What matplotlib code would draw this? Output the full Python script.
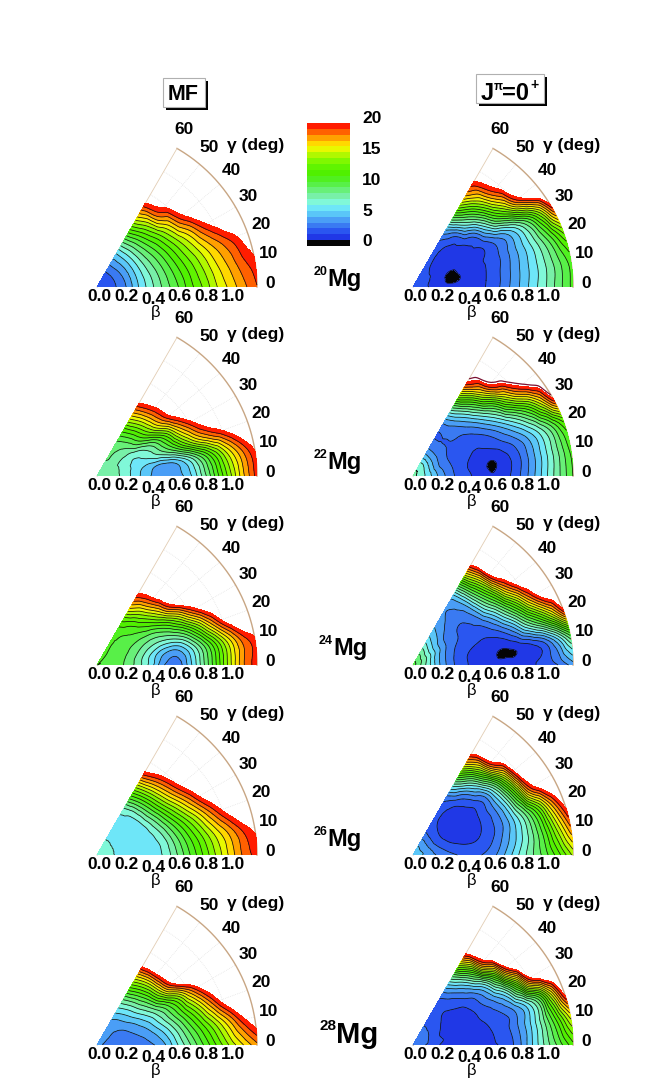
import numpy as np
import matplotlib
matplotlib.use('Agg')
import matplotlib.pyplot as plt
import matplotlib.tri as mtri
from matplotlib.colors import ListedColormap
from matplotlib.patches import Rectangle

plt.rcParams['font.family'] = ['Liberation Sans', 'DejaVu Sans']

# ---------------- data ----------------
BETA = [0.1, 0.2, 0.3, 0.4, 0.5, 0.6, 0.7, 0.8, 0.9, 1.0, 1.1, 1.2]
GAMMA = [0, 10, 20, 30, 40, 50, 60]          # rows of each table
BETA_TICKS = [0.0, 0.2, 0.4, 0.6, 0.8, 1.0]
GAMMA_TICKS = [0, 10, 20, 30, 40, 50, 60]
CBAR_TICKS = [0, 5, 10, 15, 20]
E_LEVELS = [-5.0, 0.95, 1.90, 2.86, 3.81, 4.76, 5.71, 6.67, 7.62, 8.57, 9.52,
            10.48, 11.43, 12.38, 13.33, 14.29, 15.24, 16.19, 17.14, 18.10, 19.05, 20.0]
BAND_COLORS = ['#050505', '#2038e6', '#2a56f0', '#3a7af2', '#4a9ef6', '#5ac6f8',
               '#6ee6f8', '#80f8d8', '#78f0a8', '#68f078', '#58f048', '#50f020',
               '#50f000', '#60f400', '#80f800', '#b0f800', '#e8f800', '#ffd800',
               '#ffa000', '#ff6000', '#ff1c00']
NUCLEI = ['20', '22', '24', '26', '28']
COLUMN_TITLES = ['MF', 'J=0']

# energies (MeV): E0 at beta=0, then rows gamma=0..60, columns beta=0.1..1.2
MG20_MF_E0 = 2.0
MG20_MF = [
    [2.5, 3.5, 5.5, 7.2, 8.8, 10.3, 12.0, 13.5, 15.2, 16.5, 17.8, 19.0],
    [2.5, 3.6, 5.6, 7.4, 9.1, 10.8, 12.5, 14.2, 15.9, 17.3, 18.7, 19.8],
    [2.5, 3.7, 5.7, 7.7, 9.5, 11.4, 13.3, 15.1, 16.9, 18.4, 19.8, 21.5],
    [2.5, 3.8, 5.8, 8.0, 10.0, 12.1, 14.3, 16.5, 19.0, 21.0, 23.0, 25.0],
    [2.5, 3.9, 5.9, 8.3, 10.7, 13.1, 15.8, 19.0, 21.5, 24.0, 26.0, 28.0],
    [2.5, 4.0, 6.0, 8.6, 11.5, 14.5, 18.3, 20.5, 23.0, 25.5, 28.0, 30.0],
    [2.5, 4.0, 6.0, 9.0, 12.5, 16.0, 19.2, 22.0, 25.0, 27.5, 30.0, 32.0]]
MG20_J0_E0 = 2.5
MG20_J0 = [
    [2.0, 1.6, 1.4, 1.5, 1.7, 2.3, 3.5, 4.8, 6.2, 7.6, 9.2, 10.8],
    [2.0, 1.3, 0.7, 1.2, 1.6, 2.2, 3.3, 4.6, 6.0, 7.5, 9.2, 11.0],
    [2.1, 1.4, 0.8, 1.3, 1.7, 2.1, 3.0, 4.4, 6.0, 8.0, 10.5, 13.5],
    [2.2, 1.6, 1.3, 1.5, 1.7, 2.0, 3.3, 4.8, 7.0, 10.0, 14.0, 19.3],
    [2.2, 1.7, 1.5, 1.6, 2.0, 3.2, 6.5, 10.5, 14.0, 18.5, 22.0, 25.0],
    [2.3, 1.9, 1.7, 1.9, 3.0, 6.5, 10.0, 14.0, 18.0, 21.0, 24.0, 27.0],
    [2.4, 2.2, 2.3, 2.8, 5.0, 9.5, 14.0, 17.5, 19.7, 22.0, 24.5, 27.0]]
MG22_MF_E0 = 8.5
MG22_MF = [
    [8.2, 7.3, 6.0, 4.8, 4.0, 4.3, 5.5, 8.0, 11.0, 14.0, 17.0, 19.5],
    [8.2, 7.3, 6.2, 5.2, 4.6, 5.0, 6.8, 9.5, 12.5, 15.5, 18.0, 20.2],
    [8.2, 7.4, 6.5, 6.8, 8.0, 10.0, 13.0, 16.0, 18.2, 20.0, 22.0, 24.0],
    [8.3, 7.5, 7.0, 7.8, 9.5, 12.5, 16.5, 19.5, 22.0, 24.0, 26.0, 28.0],
    [8.4, 8.0, 8.3, 10.3, 13.0, 16.5, 19.8, 22.5, 25.0, 27.0, 29.0, 31.0],
    [8.5, 8.4, 9.0, 11.2, 14.3, 17.8, 20.8, 23.5, 26.0, 28.0, 30.0, 32.0],
    [8.5, 8.8, 9.5, 12.0, 15.5, 19.0, 22.0, 25.0, 27.0, 29.0, 31.0, 33.0]]
MG22_J0_E0 = 8.0
MG22_J0 = [
    [6.5, 4.5, 3.0, 2.2, 1.5, 1.0, 1.6, 2.8, 4.5, 6.5, 8.5, 10.5],
    [6.5, 4.3, 2.9, 2.0, 1.4, 0.88, 1.5, 2.6, 4.3, 6.3, 8.5, 10.8],
    [6.5, 4.0, 2.8, 2.2, 1.8, 1.9, 2.5, 3.5, 5.0, 7.0, 9.5, 12.5],
    [6.6, 4.1, 2.8, 2.3, 2.2, 2.7, 4.0, 6.0, 8.5, 11.5, 15.5, 20.5],
    [6.8, 4.3, 3.0, 2.8, 3.0, 4.3, 6.8, 10.0, 14.5, 18.5, 21.5, 24.0],
    [7.0, 4.4, 3.0, 3.0, 4.0, 6.5, 10.5, 15.5, 20.2, 22.5, 25.0, 27.0],
    [7.0, 4.5, 3.0, 3.0, 5.0, 9.0, 14.5, 19.5, 22.0, 24.0, 26.0, 28.0]]
MG24_MF_E0 = 10.5
MG24_MF = [
    [10.2, 9.5, 8.2, 6.3, 3.9, 3.2, 5.4, 8.4, 11.6, 15.0, 18.0, 19.6],
    [10.2, 9.6, 8.4, 6.7, 5.0, 4.5, 6.2, 9.0, 12.2, 15.5, 18.3, 19.9],
    [10.3, 9.8, 9.0, 8.0, 7.5, 8.0, 9.8, 13.0, 16.8, 20.3, 23.0, 25.0],
    [10.4, 10.0, 9.6, 9.4, 9.8, 11.5, 14.5, 18.3, 21.5, 24.0, 26.5, 29.0],
    [10.4, 10.2, 10.2, 10.8, 12.5, 15.5, 19.7, 23.0, 25.5, 28.0, 30.0, 32.0],
    [10.5, 10.4, 10.6, 11.8, 14.5, 18.0, 21.5, 24.0, 26.5, 29.0, 31.0, 33.0],
    [10.5, 10.6, 11.0, 13.0, 16.5, 19.5, 22.0, 24.5, 27.0, 29.0, 31.0, 33.0]]
MG24_J0_E0 = 10.0
MG24_J0 = [
    [7.5, 4.8, 3.0, 2.0, 1.5, 1.25, 1.2, 1.4, 1.8, 2.3, 3.0, 4.2],
    [7.6, 4.8, 3.0, 2.0, 1.5, 1.15, 0.93, 1.3, 1.9, 3.0, 5.5, 9.0],
    [7.8, 5.0, 3.2, 2.4, 2.0, 1.9, 2.6, 4.5, 7.8, 11.0, 14.8, 19.5],
    [8.0, 5.5, 3.6, 2.8, 2.5, 3.0, 5.0, 8.5, 12.7, 17.5, 21.5, 24.0],
    [8.0, 5.6, 3.8, 3.0, 2.9, 4.2, 7.8, 12.0, 17.5, 21.5, 24.0, 26.0],
    [8.3, 6.0, 4.5, 3.6, 3.5, 5.0, 9.5, 14.5, 20.8, 23.5, 26.0, 28.0],
    [8.5, 6.5, 5.0, 4.3, 4.0, 5.5, 10.5, 16.5, 21.5, 24.0, 26.0, 28.0]]
MG26_MF_E0 = 7.0
MG26_MF = [
    [6.8, 6.3, 6.1, 6.1, 6.8, 8.5, 10.5, 12.5, 14.5, 16.5, 18.3, 19.5],
    [6.8, 6.3, 6.1, 6.1, 7.0, 9.0, 11.2, 13.3, 15.4, 17.3, 19.1, 20.5],
    [6.8, 6.3, 6.1, 6.2, 7.6, 10.0, 12.5, 15.0, 17.7, 20.2, 22.5, 25.0],
    [6.8, 6.3, 6.2, 6.4, 8.5, 11.5, 14.5, 17.5, 20.5, 23.0, 25.5, 28.0],
    [6.8, 6.3, 6.2, 6.7, 9.5, 13.0, 16.5, 19.7, 22.5, 25.0, 27.5, 30.0],
    [6.8, 6.4, 6.2, 7.0, 10.2, 14.0, 17.8, 21.0, 24.0, 26.5, 29.0, 31.0],
    [6.8, 6.4, 6.3, 7.5, 11.0, 15.0, 19.3, 22.5, 25.0, 27.5, 30.0, 32.0]]
MG26_J0_E0 = 5.5
MG26_J0 = [
    [4.5, 3.6, 3.0, 2.7, 2.8, 3.5, 5.0, 6.8, 8.5, 10.2, 12.2, 14.5],
    [4.5, 3.2, 2.4, 2.0, 2.1, 2.8, 4.2, 6.0, 8.2, 11.0, 14.5, 18.0],
    [4.4, 2.8, 1.8, 1.4, 1.6, 2.4, 3.6, 5.8, 8.8, 12.5, 17.0, 21.0],
    [4.3, 2.5, 1.5, 1.1, 1.3, 2.3, 3.8, 6.8, 12.0, 18.5, 22.0, 25.0],
    [4.3, 2.5, 1.5, 1.2, 1.5, 2.4, 4.2, 8.5, 14.5, 21.0, 24.0, 27.0],
    [4.4, 2.6, 1.8, 1.6, 2.2, 4.0, 7.5, 13.0, 19.5, 23.0, 25.5, 28.0],
    [4.5, 2.8, 2.2, 2.4, 3.5, 7.0, 12.0, 17.0, 21.0, 24.0, 26.5, 29.0]]
MG28_MF_E0 = 4.0
MG28_MF = [
    [3.6, 3.4, 3.4, 3.6, 4.5, 6.5, 8.5, 10.5, 12.5, 14.5, 16.2, 17.8],
    [3.6, 3.4, 3.6, 4.2, 5.5, 7.5, 9.8, 12.0, 14.3, 16.8, 19.4, 21.5],
    [3.7, 3.5, 4.0, 5.0, 6.8, 9.0, 11.5, 14.2, 17.5, 20.8, 23.5, 26.0],
    [3.8, 3.7, 4.5, 6.0, 8.0, 10.5, 13.5, 17.5, 21.0, 24.0, 26.5, 29.0],
    [3.9, 4.0, 5.2, 7.2, 9.8, 14.0, 19.0, 23.0, 25.5, 28.0, 30.0, 32.0],
    [4.0, 4.2, 5.7, 8.0, 11.2, 15.2, 20.3, 23.5, 26.5, 28.5, 30.5, 32.5],
    [4.0, 4.5, 6.2, 8.8, 12.5, 16.5, 21.0, 24.0, 27.0, 29.0, 31.0, 33.0]]
MG28_J0_E0 = 3.8
MG28_J0 = [
    [2.8, 1.9, 1.6, 1.5, 1.6, 1.8, 2.2, 3.6, 5.8, 8.0, 10.0, 12.0],
    [3.0, 2.1, 1.6, 1.5, 1.6, 1.9, 2.5, 3.8, 5.8, 8.5, 11.8, 15.5],
    [3.1, 2.0, 1.4, 1.3, 1.7, 2.2, 2.8, 4.0, 6.2, 9.5, 15.0, 21.0],
    [3.2, 2.2, 1.5, 1.3, 1.8, 2.8, 4.3, 7.0, 12.5, 19.5, 23.0, 26.0],
    [3.3, 2.4, 1.8, 1.8, 2.4, 3.7, 6.5, 12.0, 19.5, 24.0, 26.5, 29.0],
    [3.4, 2.5, 2.0, 2.3, 3.6, 6.2, 11.0, 18.5, 23.0, 25.5, 27.5, 29.5],
    [3.5, 2.6, 2.3, 2.8, 5.0, 9.0, 15.0, 20.5, 23.5, 26.0, 28.0, 30.0]]

PANELS_MF = [(MG20_MF_E0, MG20_MF), (MG22_MF_E0, MG22_MF), (MG24_MF_E0, MG24_MF),
             (MG26_MF_E0, MG26_MF), (MG28_MF_E0, MG28_MF)]
PANELS_J0 = [(MG20_J0_E0, MG20_J0), (MG22_J0_E0, MG22_J0), (MG24_J0_E0, MG24_J0),
             (MG26_J0_E0, MG26_J0), (MG28_J0_E0, MG28_J0)]

# ---------------- layout ----------------
W, H = 654, 1085
S = 160 / 1.2                      # pixels per beta unit
ROW_Y = [287, 476, 665, 855, 1045]
COL_X = [97, 413]
GSCALE = 100.0                     # degrees per parameter unit

fig = plt.figure(figsize=(W / 100, H / 100), dpi=100)
fig.patch.set_facecolor('white')


def fx(p):
    return p / W


def fy(p):
    return 1 - p / H


def make_tri(e0, table):
    # triangulate on the (beta, gamma) parameter grid, smooth there, then map to the plane
    betas = [0.0] + BETA
    ng = len(GAMMA)
    us, vs, zs = [], [], []
    for i, b in enumerate(betas):
        for j, g in enumerate(GAMMA):
            us.append(b)
            vs.append(g / GSCALE)
            zs.append(e0 if i == 0 else table[j][i - 1])
    idx = lambda i, j: i * ng + j
    tris = []
    for i in range(len(betas) - 1):
        for j in range(ng - 1):
            tris.append([idx(i, j), idx(i + 1, j), idx(i + 1, j + 1)])
            tris.append([idx(i, j), idx(i + 1, j + 1), idx(i, j + 1)])
    tri = mtri.Triangulation(np.array(us), np.array(vs), np.array(tris))
    z = np.array(zs)
    interp = mtri.CubicTriInterpolator(tri, z, kind='geom')
    ref = mtri.UniformTriRefiner(tri)
    tri_r, z_r = ref.refine_field(z, triinterpolator=interp, subdiv=3)
    th = np.radians(tri_r.y * GSCALE)
    xr = tri_r.x * np.cos(th)
    yr = tri_r.x * np.sin(th)
    return mtri.Triangulation(xr, yr, tri_r.triangles), z_r


def draw_panel(ox, oy, e0, table, extra=False):
    x0, x1, y0, y1 = -0.15, 1.60, -0.30, 1.45
    ax = fig.add_axes([fx(ox + x0 * S), fy(oy - y0 * S),
                       (x1 - x0) * S / W, (y1 - y0) * S / H])
    ax.set_xlim(x0, x1)
    ax.set_ylim(y0, y1)
    ax.axis('off')
    ax.patch.set_visible(False)
    th = np.radians(np.linspace(0, 60, 200))
    # faint grid
    for g in [10, 20, 30, 40, 50]:
        ax.plot([0, 1.2 * np.cos(np.radians(g))], [0, 1.2 * np.sin(np.radians(g))],
                color='#dcdcdc', lw=0.5, ls=':', zorder=0)
    for b in [0.2, 0.4, 0.6, 0.8, 1.0]:
        ax.plot(b * np.cos(th), b * np.sin(th), color='#dcdcdc', lw=0.5, ls=':', zorder=0)
    ax.plot(1.2 * np.cos(th), 1.2 * np.sin(th), color='#c8a684', lw=1.0, zorder=1)
    ax.plot([0, 0.6], [0, 1.2 * np.sin(np.radians(60))], color='#e2cdb4', lw=0.6, zorder=1)

    tri_r, z_r = make_tri(e0, table)
    ax.tricontourf(tri_r, z_r, levels=E_LEVELS, colors=BAND_COLORS, zorder=2)
    ax.tricontour(tri_r, z_r, levels=E_LEVELS[1:-1], colors='#111111',
                  linewidths=0.55, zorder=3)
    if extra:
        ax.tricontour(tri_r, z_r, levels=[20.7], colors='#7a1030', linewidths=0.9, zorder=3)

    # gamma labels
    for g in GAMMA_TICKS:
        r = 1.30 + 0.05 * g / 60
        a = np.radians(g + 1)
        ax.text(r * np.cos(a), r * np.sin(a), str(g), fontsize=12.5, fontweight='bold',
                ha='center', va='center', clip_on=False)
    ax.text(1.19, 1.06, 'γ (deg)', fontsize=12.5, fontweight='bold',
            ha='center', va='center', clip_on=False)
    # beta labels
    for b in BETA_TICKS:
        yy = -0.037 if abs(b - 0.4) < 1e-6 else -0.018
        ax.text(b + 0.02, yy, f'{b:.1f}', fontsize=12.5, fontweight='bold',
                ha='center', va='top', clip_on=False)
    ax.text(0.44, -0.19, 'β', fontsize=12, ha='center', va='center', clip_on=False)
    return ax


for r in range(5):
    draw_panel(COL_X[0], ROW_Y[r], *PANELS_MF[r])
    draw_panel(COL_X[1], ROW_Y[r], *PANELS_J0[r], extra=(r == 1))

# ---------------- colour bar ----------------
cax = fig.add_axes([fx(307), fy(246), 43 / W, 123 / H])
cax.imshow(np.arange(len(BAND_COLORS)).reshape(-1, 1), cmap=ListedColormap(BAND_COLORS),
           origin='lower', aspect='auto', extent=[0, 1, 0, len(BAND_COLORS)],
           interpolation='nearest')
cax.set_xticks([])
cax.set_yticks([])
for sp in cax.spines.values():
    sp.set_visible(False)
for t in CBAR_TICKS:
    fig.text(fx(362), fy(242 - 6.15 * t), str(t), fontsize=12.5, fontweight='bold',
             ha='left', va='center')

# ---------------- nucleus labels ----------------
NUC_POS = [(327, 286, 17, 9), (327, 469, 17, 9), (333, 655, 17, 9),
           (327, 846, 17, 9), (336, 1043, 21, 11)]
for n, (xl, base, fs, fs2) in zip(NUCLEI, NUC_POS):
    fig.text(fx(xl), fy(base), 'Mg', fontsize=fs, fontweight='bold', ha='left', va='baseline')
    fig.text(fx(xl), fy(base - fs * 0.62), n, fontsize=fs2, fontweight='bold',
             ha='right', va='baseline')

# ---------------- column titles ----------------
def title_box(x0, y0, x1, y1):
    fig.patches.append(Rectangle((fx(x0 + 3), fy(y1 + 3)), (x1 - x0) / W, (y1 - y0) / H,
                                 transform=fig.transFigure, facecolor='black',
                                 edgecolor='none', zorder=5))
    fig.patches.append(Rectangle((fx(x0), fy(y1)), (x1 - x0) / W, (y1 - y0) / H,
                                 transform=fig.transFigure, facecolor='white',
                                 edgecolor='#b0b0b0', lw=0.8, zorder=6))

title_box(163, 78, 205, 107)
fig.text(fx(183), fy(100), COLUMN_TITLES[0], fontsize=15.5, fontweight='bold',
         ha='center', va='baseline', zorder=7)
title_box(476, 74, 544, 103)
fig.text(fx(481), fy(100), 'J', fontsize=17, fontweight='bold', ha='left', va='baseline', zorder=7)
fig.text(fx(493.5), fy(90), 'π', fontsize=8.5, fontweight='bold', ha='left', va='baseline', zorder=7)
fig.text(fx(502), fy(100), '=0', fontsize=17, fontweight='bold', ha='left', va='baseline', zorder=7)
fig.text(fx(530), fy(89), '+', fontsize=10, fontweight='bold', ha='left', va='baseline', zorder=7)

fig.savefig('out.png', dpi=100, facecolor='white')
